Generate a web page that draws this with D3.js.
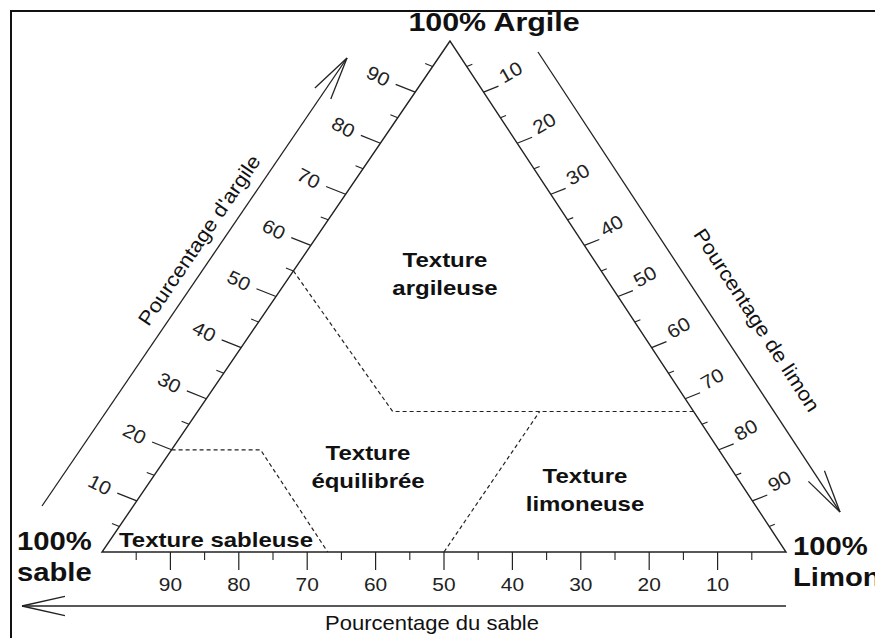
<!DOCTYPE html>
<html>
<head>
<meta charset="utf-8">
<script src="https://cdn.jsdelivr.net/npm/d3@7/dist/d3.min.js"></script>
<style>
body { margin: 0; background: #fff; }
svg { display: block; }
text { font-family: "Liberation Sans", Arial, sans-serif; fill: #111; }
</style>
</head>
<body>
<div id="chart"></div>
<script>
// data
var topLabel = "100% Argile";
var sandCorner = ["100%", "sable"];
var siltCorner = ["100%", "Limon"];
var clayTicks = [10, 20, 30, 40, 50, 60, 70, 80, 90];
var siltTicks = [10, 20, 30, 40, 50, 60, 70, 80, 90];
var sandTicks = [90, 80, 70, 60, 50, 40, 30, 20, 10];
var minorTicks = [5, 15, 25, 35, 45, 55, 65, 75, 85, 95];
var clayTitle = "Pourcentage d'argile";
var siltTitle = "Pourcentage de limon";
var sandTitle = "Pourcentage du sable";
var regionNames = [["Texture", "argileuse"], ["Texture", "équilibrée"], ["Texture", "limoneuse"], ["Texture sableuse"]];
// boundaries as [clay %, sand %], silt is the rest
var argileuseEdge = [[55, 45], [27.5, 44], [27.5, 0]];
var limoneuseEdge = [[0, 50], [27.5, 22.5]];
var sableuseEdge = [[20, 80], [20, 67], [0, 67]];

var W = 875, H = 638;
var apex = [450, 41], left = [102, 552], right = [786, 552];
var sx = 1.17;

var svg = d3.select("#chart")
	.append("svg")
	.attr("width", W)
	.attr("height", H);

var sandScale = d3.scaleLinear().domain([100, 0]).range([left[0], right[0]]);
var clayScale = d3.scaleLinear().domain([0, 100]).range([left[1], apex[1]]);

function pt(clay, sand)
{
	return [sandScale(sand) + clay / 100 * (apex[0] - right[0]), clayScale(clay)];
}

function txt(str, x, y, size, weight, rot, scale, anchor)
{
	return svg.append("text")
		.attr("transform", "translate(" + x + "," + y + ") rotate(" + (rot || 0) + ") scale(" + (scale || sx) + ",1)")
		.attr("text-anchor", anchor || "middle")
		.attr("font-size", size)
		.attr("font-weight", weight || "normal")
		.text(str);
}

function arrow(from, to)
{
	svg.append("line")
		.attr("x1", from[0]).attr("y1", from[1])
		.attr("x2", to[0]).attr("y2", to[1])
		.attr("stroke", "#222").attr("stroke-width", 1.3);
	var a = Math.atan2(from[1] - to[1], from[0] - to[0]);
	[-0.22, 0.22].forEach(function(d)
	{
		svg.append("line")
			.attr("x1", to[0]).attr("y1", to[1])
			.attr("x2", to[0] + 44 * Math.cos(a + d))
			.attr("y2", to[1] + 44 * Math.sin(a + d))
			.attr("stroke", "#222").attr("stroke-width", 1.3);
	});
}

// frame
svg.append("rect")
	.attr("x", 11).attr("y", 11)
	.attr("width", 900).attr("height", 700)
	.attr("fill", "none")
	.attr("stroke", "#111")
	.attr("stroke-width", 2);

// triangle
svg.append("path")
	.attr("d", d3.line()([pt(100, 0), pt(0, 100), pt(0, 0)]) + "Z")
	.attr("fill", "none")
	.attr("stroke", "#222")
	.attr("stroke-width", 1.4);

// region boundaries
var line = d3.line().x(function(d) { return pt(d[0], d[1])[0]; }).y(function(d) { return pt(d[0], d[1])[1]; });
[argileuseEdge, limoneuseEdge, sableuseEdge].forEach(function(e)
{
	svg.append("path")
		.attr("d", line(e))
		.attr("fill", "none")
		.attr("stroke", "#222")
		.attr("stroke-width", 1.2)
		.attr("stroke-dasharray", "4,3");
});

// clay ticks (left edge)
var lt = [-0.93, -0.37];
svg.selectAll(".clayTick")
	.data(clayTicks)
	.enter()
	.append("line")
	.attr("x1", function(d) { return pt(d, 100 - d)[0]; })
	.attr("y1", function(d) { return pt(d, 100 - d)[1]; })
	.attr("x2", function(d) { return pt(d, 100 - d)[0] + 21 * lt[0]; })
	.attr("y2", function(d) { return pt(d, 100 - d)[1] + 21 * lt[1]; })
	.attr("stroke", "#222").attr("stroke-width", 1.2);
svg.selectAll(".clayMinor")
	.data(minorTicks)
	.enter()
	.append("line")
	.attr("x1", function(d) { return pt(d, 100 - d)[0]; })
	.attr("y1", function(d) { return pt(d, 100 - d)[1]; })
	.attr("x2", function(d) { return pt(d, 100 - d)[0] + 8 * lt[0]; })
	.attr("y2", function(d) { return pt(d, 100 - d)[1] + 8 * lt[1]; })
	.attr("stroke", "#222").attr("stroke-width", 1.1);
clayTicks.forEach(function(d)
{
	var p = pt(d, 100 - d);
	txt(d, p[0] - 37, p[1] - 16, 19, "normal", 27, 1.1).attr("dominant-baseline", "central").style("fill", "#222");
});

// silt ticks (right edge)
var rt = [0.93, -0.37];
svg.selectAll(".siltTick")
	.data(siltTicks)
	.enter()
	.append("line")
	.attr("x1", function(d) { return pt(100 - d, 0)[0]; })
	.attr("y1", function(d) { return pt(100 - d, 0)[1]; })
	.attr("x2", function(d) { return pt(100 - d, 0)[0] + 16 * rt[0]; })
	.attr("y2", function(d) { return pt(100 - d, 0)[1] + 16 * rt[1]; })
	.attr("stroke", "#222").attr("stroke-width", 1.2);
svg.selectAll(".siltMinor")
	.data(minorTicks)
	.enter()
	.append("line")
	.attr("x1", function(d) { return pt(100 - d, 0)[0]; })
	.attr("y1", function(d) { return pt(100 - d, 0)[1]; })
	.attr("x2", function(d) { return pt(100 - d, 0)[0] + 6 * rt[0]; })
	.attr("y2", function(d) { return pt(100 - d, 0)[1] + 6 * rt[1]; })
	.attr("stroke", "#222").attr("stroke-width", 1.1);
siltTicks.forEach(function(d)
{
	var p = pt(100 - d, 0);
	txt(d, p[0] + 27, p[1] - 20, 19, "normal", -30, 1.1).attr("dominant-baseline", "central").style("fill", "#222");
});

// sand ticks (bottom)
svg.selectAll(".sandTick")
	.data(sandTicks)
	.enter()
	.append("line")
	.attr("x1", function(d) { return sandScale(d); })
	.attr("x2", function(d) { return sandScale(d); })
	.attr("y1", left[1])
	.attr("y2", left[1] + 18)
	.attr("stroke", "#222").attr("stroke-width", 1.2);
svg.selectAll(".sandMinor")
	.data(minorTicks)
	.enter()
	.append("line")
	.attr("x1", function(d) { return sandScale(d); })
	.attr("x2", function(d) { return sandScale(d); })
	.attr("y1", left[1])
	.attr("y2", left[1] + 8)
	.attr("stroke", "#222").attr("stroke-width", 1.1);
sandTicks.forEach(function(d)
{
	txt(d, sandScale(d), 591, 19, "normal", 0, 1.1).style("fill", "#222");
});

// axis arrows and titles
arrow([42, 506], [347, 58]);
txt(clayTitle, 199, 240, 20, "normal", -55.8, 1.1).attr("dominant-baseline", "central");
arrow([538, 52], [840, 512]);
txt(siltTitle, 757, 320, 20, "normal", 57, 1.1).attr("dominant-baseline", "central");
arrow([786, 606], [22, 606]);
txt(sandTitle, 432, 630, 20, "normal", 0, 1.1);

// corner labels
txt(topLabel, 494, 31, 26, "bold");
txt(sandCorner[0], 17, 550, 25, "bold", 0, sx, "start");
txt(sandCorner[1], 17, 581, 25, "bold", 0, sx, "start");
txt(siltCorner[0], 793, 555, 25, "bold", 0, sx, "start");
txt(siltCorner[1], 793, 586, 25, "bold", 0, sx, "start");

// region names
var namePos = [[445, 267], [368, 460], [585, 483], [216, 547]];
regionNames.forEach(function(r, i)
{
	r.forEach(function(s, j)
	{
		txt(s, namePos[i][0], namePos[i][1] + j * 28, 20.5, "bold");
	});
});
</script>
</body>
</html>
